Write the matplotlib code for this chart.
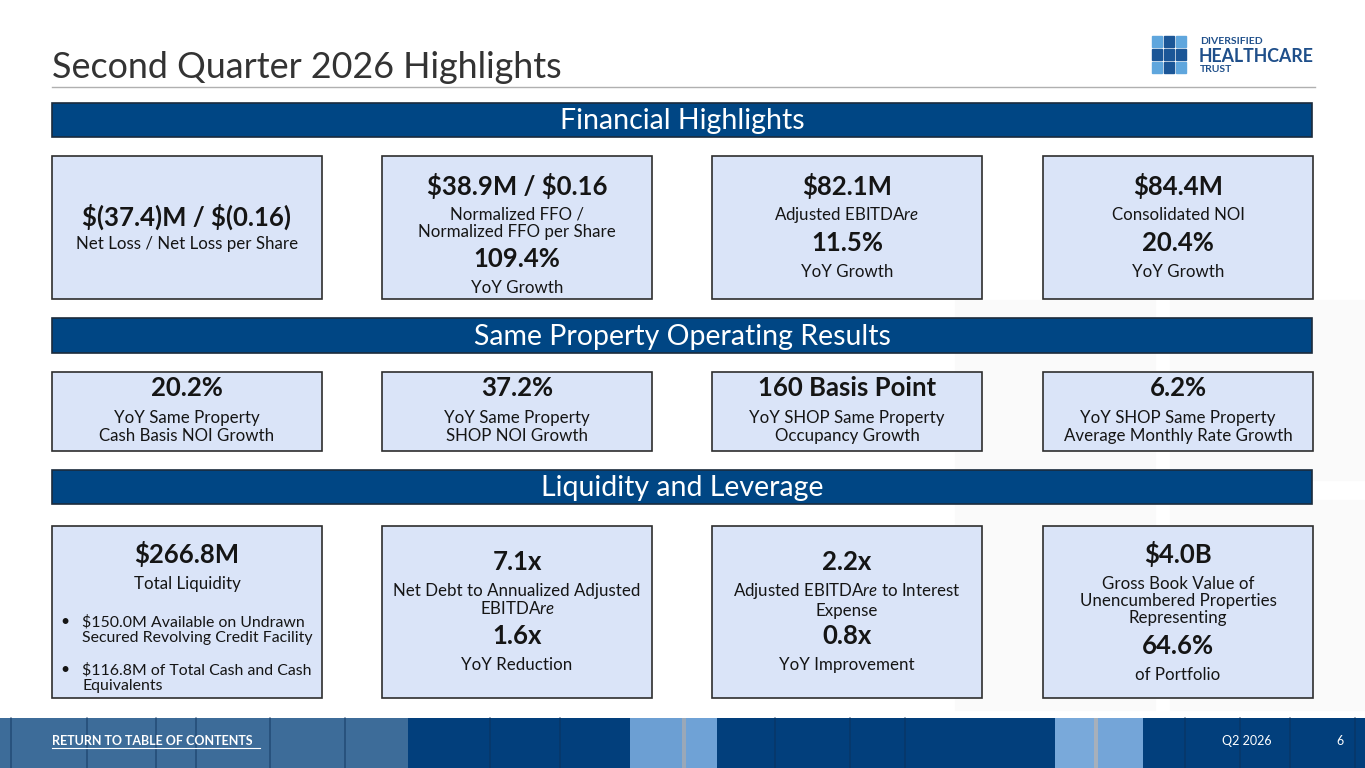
import matplotlib
matplotlib.use("Agg")
import matplotlib.pyplot as plt
from matplotlib.patches import Rectangle

plt.rcParams['font.family'] = ['Lato', 'DejaVu Sans']
plt.rcParams['mathtext.fontset'] = 'custom'
plt.rcParams['mathtext.rm'] = 'Lato'
plt.rcParams['mathtext.it'] = 'Lato:italic'

TITLE = "Second Quarter 2026 Highlights"
SECTIONS = ["Financial Highlights", "Same Property Operating Results", "Liquidity and Leverage"]

# each card: list of (text, kind) from top to bottom; kind 'b' = big bold, 'r' = regular
financial_cards = [
    [("$(37.4)M / $(0.16)", "b"), ("Net Loss / Net Loss per Share", "r")],
    [("$38.9M / $0.16", "b"), ("Normalized FFO /\nNormalized FFO per Share", "r"),
     ("109.4%", "b"), ("YoY Growth", "r")],
    [("$82.1M", "b"), (r"Adjusted EBITDA$\it{re}$", "r"), ("11.5%", "b"), ("YoY Growth", "r")],
    [("$84.4M", "b"), ("Consolidated NOI", "r"), ("20.4%", "b"), ("YoY Growth", "r")],
]
same_property_cards = [
    [("20.2%", "b"), ("YoY Same Property\nCash Basis NOI Growth", "r")],
    [("37.2%", "b"), ("YoY Same Property\nSHOP NOI Growth", "r")],
    [("160 Basis Point", "b"), ("YoY SHOP Same Property\nOccupancy Growth", "r")],
    [("6.2%", "b"), ("YoY SHOP Same Property\nAverage Monthly Rate Growth", "r")],
]
liquidity_cards = [
    [("$266.8M", "b"), ("Total Liquidity", "r")],
    [("7.1x", "b"), ("Net Debt to Annualized Adjusted\n" + r"EBITDA$\it{re}$", "r"),
     ("1.6x", "b"), ("YoY Reduction", "r")],
    [("2.2x", "b"), (r"Adjusted EBITDA$\it{re}$ to Interest" + "\nExpense", "r"),
     ("0.8x", "b"), ("YoY Improvement", "r")],
    [("$4.0B", "b"), ("Gross Book Value of\nUnencumbered Properties\nRepresenting", "r"),
     ("64.6%", "b"), ("of Portfolio", "r")],
]
liquidity_bullets = ["$150.0M Available on Undrawn\nSecured Revolving Credit Facility",
                     "$116.8M of Total Cash and Cash\nEquivalents"]

# footer strips (left edge, right edge, colour)
footer_strips = [(0, 408, "#3d6c99"), (408, 630, "#023f7c"), (630, 682, "#6c9fd3"),
                 (682, 686, "#9aa8b8"), (686, 717, "#6fa2d6"), (717, 1055, "#023f7c"),
                 (1055, 1094, "#79a9da"), (1094, 1098, "#a7b0bb"), (1098, 1143, "#74a5d8"),
                 (1143, 1365, "#023f7c")]
footer_lines = [11, 87, 156, 196, 270, 345, 490, 560, 775, 850, 905, 1185, 1240, 1290, 1355]

NAVY = "#004684"
CARD = "#dae4f8"
EDGE = "#2e2e2e"
INK = "#151515"
BIG = 18.5
SMALL = 12.2

fig = plt.figure(figsize=(13.65, 7.68), dpi=100)
ax = fig.add_axes([0, 0, 1, 1])
ax.set_xlim(0, 1365)
ax.set_ylim(768, 0)
ax.axis("off")

# faint background watermark blocks
for x0, y0, w, h in [(955, 300, 200, 180), (1170, 300, 195, 180), (955, 500, 200, 210), (1170, 500, 195, 210)]:
    ax.add_patch(Rectangle((x0, y0), w, h, color="#fafafa", zorder=0))

# title + rule
ax.text(52, 78, TITLE, fontsize=25.8, color="#333333", va="baseline", ha="left")
ax.plot([52, 1315], [87, 87], color="#b0b0b0", lw=1)

# logo
light, dark = "#5fa6dd", "#1b5697"
grid = [[light, dark, light], [dark, dark, dark], [light, dark, light]]
for r, row in enumerate(grid):
    for c, col in enumerate(row):
        ax.add_patch(Rectangle((1152 + c * 12, 36 + r * 13), 10, 11, color=col))
ax.text(1200, 41.5, "DIVERSIFIED", fontsize=7.5, fontweight="bold", color="#1f4f8a", va="center")
ax.text(1199, 56, "HEALTHCARE", fontsize=12.8, fontweight="bold", color="#1f4f8a", va="center")
ax.text(1200, 70, "TRUST", fontsize=7.5, fontweight="bold", color="#1f4f8a", va="center")

# section bars
bars_y = [(103, 137), (318, 353), (470, 504)]
for (y0, y1), label in zip(bars_y, SECTIONS):
    ax.add_patch(Rectangle((52, y0), 1260, y1 - y0, facecolor=NAVY, edgecolor="#1b2b3c", lw=1.2))
    ax.text(682, (y0 + y1) / 2 + 1, label, fontsize=20.5, color="white", ha="center", va="center")

card_x = [52, 382, 712, 1043]
card_w = 270


def draw_cards(cards, y0, y1, ys):
    for x, card, yl in zip(card_x, cards, ys):
        ax.add_patch(Rectangle((x, y0), card_w, y1 - y0, facecolor=CARD, edgecolor=EDGE, lw=1.2))
        cx = x + card_w / 2
        for (txt, kind), yy in zip(card, yl):
            if kind == "b":
                ax.text(cx, yy, txt, fontsize=BIG, fontweight="bold", color=INK,
                        ha="center", va="center", parse_math=False)
            else:
                ax.text(cx, yy, txt, fontsize=SMALL, color=INK, ha="center", va="center",
                        linespacing=1.08, parse_math="$\\it" in txt)


draw_cards(financial_cards, 156, 299,
           [[217, 244], [186, 223, 259, 288], [186, 215, 243, 272], [186, 215, 243, 272]])
draw_cards(same_property_cards, 372, 451,
           [[388, 427], [388, 427], [388, 427], [388, 427]])
draw_cards(liquidity_cards, 526, 698,
           [[554, 584], [562, 600, 636, 665], [562, 600, 636, 665], [554, 601, 646, 675]])

for txt, yy in zip(liquidity_bullets, [630, 678]):
    ax.text(60, yy - 8, "\u2022", fontsize=11.5, color=INK, va="center")
    ax.text(82, yy, txt, fontsize=11.4, color=INK, va="center", linespacing=1.15, parse_math=False)

# footer
for x0, x1, col in footer_strips:
    ax.add_patch(Rectangle((x0, 718), x1 - x0, 50, color=col, lw=0))
for lx in footer_lines:
    ax.plot([lx, lx], [718, 768], color="#0c2f57", lw=1.2, alpha=0.5)
ax.text(52, 741, "RETURN TO TABLE OF CONTENTS", fontsize=9, fontweight="bold", color="white",
        va="center")
ax.plot([52, 260], [748, 748], color="white", lw=0.8)
ax.text(1222, 741, "Q2 2026", fontsize=9, color="white", va="center")
ax.text(1336, 741, "6", fontsize=9, color="white", va="center")

fig.savefig("out.png", dpi=100)
